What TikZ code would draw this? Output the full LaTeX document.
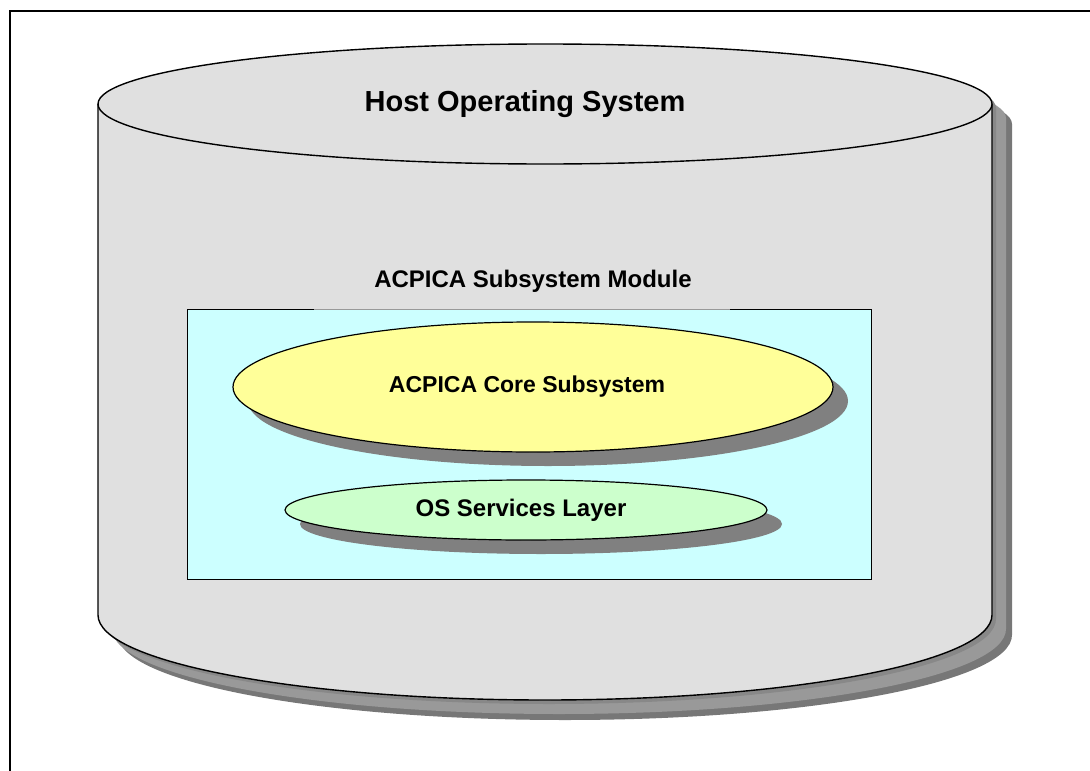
\documentclass[tikz,border=0pt]{standalone}
\usepackage{fontspec}
\setmainfont{Liberation Sans}
\usetikzlibrary{shapes.geometric,shadows}
\definecolor{cylfill}{HTML}{E0E0E0}
\definecolor{boxcol}{HTML}{CCFFFF}
\definecolor{coreyellow}{HTML}{FFFF99}
\definecolor{osgreen}{HTML}{CCFFCC}
\definecolor{shdark}{HTML}{777777}
\definecolor{shlight}{HTML}{999999}
\definecolor{shmid}{HTML}{888888}
\definecolor{ellshadow}{HTML}{808080}
\newcommand\cylsil{(98,104) -- (98,615) arc[start angle=180,end angle=0,x radius=447,y radius=85] -- (992,104) arc[start angle=0,end angle=-180,x radius=447,y radius=60] -- cycle}
\begin{document}
\begin{tikzpicture}[x=1pt,y=-1pt,
  outl/.style={draw=black,line width=1.4pt},
  bigtxt/.style={font=\fontsize{29}{34}\selectfont\bfseries},
  midtxt/.style={font=\fontsize{24}{28}\selectfont\bfseries},
  coretxt/.style={font=\fontsize{23}{27}\selectfont\bfseries},
  ellnode/.style={ellipse,draw=black,line width=1.2pt,inner sep=0pt,
     drop shadow={shadow xshift=15pt,shadow yshift=-14pt,fill=ellshadow,opacity=1}}]
\useasboundingbox (0,0) rectangle (1090,771);
% frame
\draw[line width=2pt] (9.5,771) -- (9.5,10.5) -- (1090,10.5);
% cylinder shadows
\fill[shdark,shift={(20,20)}] \cylsil;
\fill[shlight,shift={(14,14)}] \cylsil;
\fill[shmid,shift={(4,4)}] \cylsil;
% cylinder body
\fill[cylfill] \cylsil;
\draw[outl] (98,104) -- (98,615) arc[start angle=180,end angle=0,x radius=447,y radius=85] -- (992,104);
\draw[outl,fill=cylfill] (545,104) ellipse [x radius=447,y radius=60];
\node[bigtxt] (host) at (525,104) {Host Operating System};
% module
\node[midtxt] (modlabel) at (533,281) {ACPICA Subsystem Module};
\fill[boxcol] (187,309) rectangle (871,579);
\draw[line width=1pt] (314,309) -- (187,309) -- (187,579) -- (871,579) -- (871,309) -- (730,309);
\draw[line width=0.8pt,draw=shlight] (314,309) -- (730,309);
\node[ellnode,fill=coreyellow,minimum width=600pt,minimum height=130pt] (core) at (533,387) {};
\node[coretxt] (coretext) at (527,387) {ACPICA Core Subsystem};
\node[ellnode,fill=osgreen,minimum width=482pt,minimum height=60pt] (osl) at (526,510) {};
\node[midtxt] (osltext) at (521,510) {OS Services Layer};
\end{tikzpicture}
\end{document}
